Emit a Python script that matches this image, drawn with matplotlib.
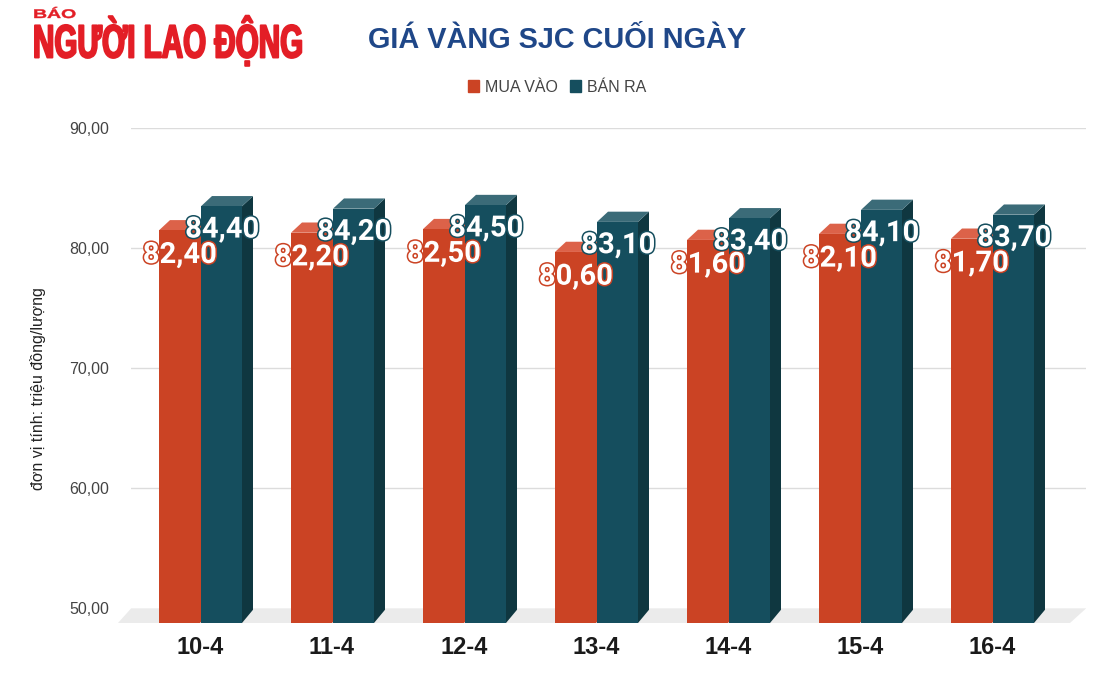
import matplotlib
matplotlib.use('Agg')
import matplotlib.pyplot as plt
import matplotlib.patheffects as pe
from matplotlib.patches import Patch
from matplotlib.transforms import Affine2D
import numpy as np

days = ['10-4', '11-4', '12-4', '13-4', '14-4', '15-4', '16-4']
mua_vao = [82.40, 82.20, 82.50, 80.60, 81.60, 82.10, 81.70]
ban_ra = [84.40, 84.20, 84.50, 83.10, 83.40, 84.10, 83.70]
y_ticks = [50, 60, 70, 80, 90]
y_tick_labels = ['50,00', '60,00', '70,00', '80,00', '90,00']

W, H = 1104, 686
RED, RED_TOP = '#cb4324', '#dc6249'
BLUE, BLUE_TOP, BLUE_SIDE = '#154e5e', '#3b6b78', '#0f3740'


def label(v):
    return f'{v:.2f}'.replace('.', ',')


# logo lettering is a condensed display face, none installed so stretch the glyphs
class Stretched(pe.AbstractPathEffect):
    def __init__(self, sx, sy, lw):
        super().__init__()
        self.sx, self.sy, self.lw = sx, sy, lw

    def draw_path(self, renderer, gc, tpath, affine, rgbFace=None):
        gc0 = renderer.new_gc()
        gc0.copy_properties(gc)
        gc0.set_foreground(rgbFace)
        gc0.set_linewidth(self.lw)
        renderer.draw_path(gc0, tpath, Affine2D().scale(self.sx, self.sy) + affine, rgbFace)
        gc0.restore()


fig = plt.figure(figsize=(W / 100, H / 100), dpi=100, facecolor='white')
# axes box = the back wall of the 3d chart
ax = fig.add_axes([131 / W, 1 - 608.5 / H, 955 / W, 481 / H])
ax.set_ylim(50, 90)
ax.set_xlim((131 - 200) / 132, (1086 - 200) / 132)
for s in ax.spines.values():
    s.set_visible(False)
ax.set_yticks(y_ticks)
ax.set_yticklabels(y_tick_labels, family='Liberation Sans', fontsize=11.5, color='#444444')
ax.tick_params(axis='y', length=0, pad=15.5)
ax.set_xticks(range(len(days)))
ax.set_xticklabels(days, family='Liberation Sans', fontsize=17, fontweight='bold', color='#1a1a1a')
ax.tick_params(axis='x', length=0, pad=20)
ax.grid(axis='y', color='#dcdcdc', lw=1)
ax.set_axisbelow(True)

# depth of the fake 3d, in axis units
bar_w = 41 / 132
dx = 11 / 132
dy_top = 0.85
floor = 50 - 14.5 / 12.03

# grey floor
x0, x1 = ax.get_xlim()
ax.fill([x0 - 13 / 132, x1 - 16 / 132, x1, x0], [floor, floor, 50, 50],
        color='#ebebeb', zorder=1, clip_on=False, lw=0)

x = np.arange(len(days))


def draw_bars(xs, values, color, top, side):
    for xi, v in zip(xs, values):
        front = v - 0.1 - dy_top
        ax.fill([xi + bar_w, xi + bar_w + dx, xi + bar_w + dx, xi + bar_w],
                [floor, floor + 1.1, v - 0.1, front], color=side, lw=0, zorder=3, clip_on=False)
        ax.fill([xi, xi + dx, xi + bar_w + dx, xi + bar_w],
                [front, v - 0.1, v - 0.1, front], color=top, lw=0, zorder=3)
        ax.bar(xi, front - floor, bottom=floor, width=bar_w, align='edge', color=color,
               zorder=3, clip_on=False, lw=0)


draw_bars(x - bar_w, mua_vao, RED, RED_TOP, RED)
draw_bars(x + 1 / 132, ban_ra, BLUE, BLUE_TOP, BLUE_SIDE)

for xi, v in zip(x, mua_vao):
    ax.annotate(label(v), (xi, v), xytext=(-14.5, -26), textcoords='offset points',
                ha='center', va='center', family='Roboto', fontweight='bold', fontsize=21,
                color='white', zorder=5,
                path_effects=[pe.withStroke(linewidth=2.2, foreground=RED)])
for xi, v in zip(x, ban_ra):
    ax.annotate(label(v), (xi, v), xytext=(16, -25), textcoords='offset points',
                ha='center', va='center', family='Roboto', fontweight='bold', fontsize=21,
                color='white', zorder=6,
                path_effects=[pe.withStroke(linewidth=2.2, foreground=BLUE)])

fig.text(38 / W, 1 - 389 / H, 'đơn vị tính: triệu đồng/lượng', rotation=90, ha='center', va='center',
         family='Liberation Sans', fontsize=11.5, color='#222222')

# header
fig.text(557.5 / W, 1 - 40 / H, 'GIÁ VÀNG SJC CUỐI NGÀY', ha='center', va='center',
         family='Liberation Sans', fontweight='bold', fontsize=20.8, color='#1f4788')
fig.text(33 / W, 1 - 18 / H, 'BÁO', ha='left', va='baseline', family='Liberation Sans',
         fontweight='bold', fontsize=10, color='#e31e26', path_effects=[Stretched(1.4, 0.9, 0.3)])
fig.text(33 / W, 1 - 57.5 / H, 'NGƯỜI LAO ĐỘNG', ha='left', va='baseline', family='Liberation Sans',
         fontweight='bold', fontsize=19.2, color='#e31e26', path_effects=[Stretched(1.11, 1.75, 1.4)])

handles = [Patch(color=RED, label='MUA VÀO'), Patch(color=BLUE, label='BÁN RA')]
fig.legend(handles=handles, ncol=2, frameon=False, loc='center', bbox_to_anchor=(557 / W, 1 - 87 / H),
           prop={'family': 'Liberation Sans', 'size': 11.5}, labelcolor='#444444',
           handlelength=0.7, handleheight=0.7, handletextpad=0.35, columnspacing=0.75)

fig.savefig('out.png', dpi=100)
